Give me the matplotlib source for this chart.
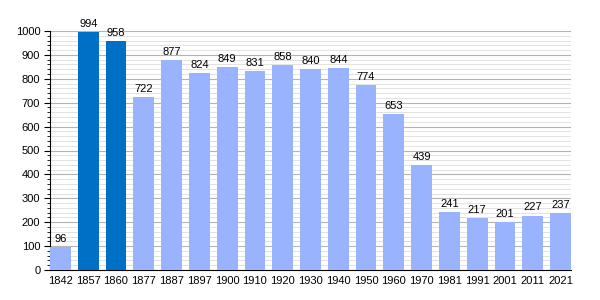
import matplotlib
matplotlib.use('Agg')
import matplotlib.pyplot as plt
from matplotlib.ticker import MultipleLocator

years = ['1842', '1857', '1860', '1877', '1887', '1897', '1900', '1910', '1920', '1930',
         '1940', '1950', '1960', '1970', '1981', '1991', '2001', '2011', '2021']
population = [96, 994, 958, 722, 877, 824, 849, 831, 858, 840,
              844, 774, 653, 439, 241, 217, 201, 227, 237]
highlight = ['1857', '1860']

plt.rcParams['font.family'] = ['Liberation Sans', 'DejaVu Sans']

fig = plt.figure(figsize=(6, 3), dpi=100)
ax = fig.add_axes([50 / 600, 30 / 300, 521 / 600, 239 / 300])

colors = ['#0070c6' if y in highlight else '#99b3ff' for y in years]
x = list(range(len(years)))
ax.bar(x, population, width=0.75, color=colors, zorder=3)

# value labels above bars
for xi, v in zip(x, population):
    ax.text(xi, v + 14, str(v), ha='center', va='bottom', fontsize=8, clip_on=False, zorder=4)

ax.set_xlim(-0.375, len(years) - 1 + 0.375)
ax.set_ylim(0, 1000)
ax.set_xticks(x)
ax.set_xticklabels(years)
ax.yaxis.set_major_locator(MultipleLocator(100))
ax.yaxis.set_minor_locator(MultipleLocator(20))
ax.grid(axis='y', which='major', color='#b4b4b4', linewidth=0.8, zorder=0)
ax.grid(axis='y', which='minor', color='#dddddd', linewidth=0.6, zorder=0)

for s in ['top', 'right']:
    ax.spines[s].set_visible(False)
ax.tick_params(axis='x', length=0, labelsize=8, pad=4)
ax.tick_params(axis='y', which='major', length=4, labelsize=8, pad=3)
ax.tick_params(axis='y', which='minor', length=2)

fig.savefig('out.png', dpi=100)
